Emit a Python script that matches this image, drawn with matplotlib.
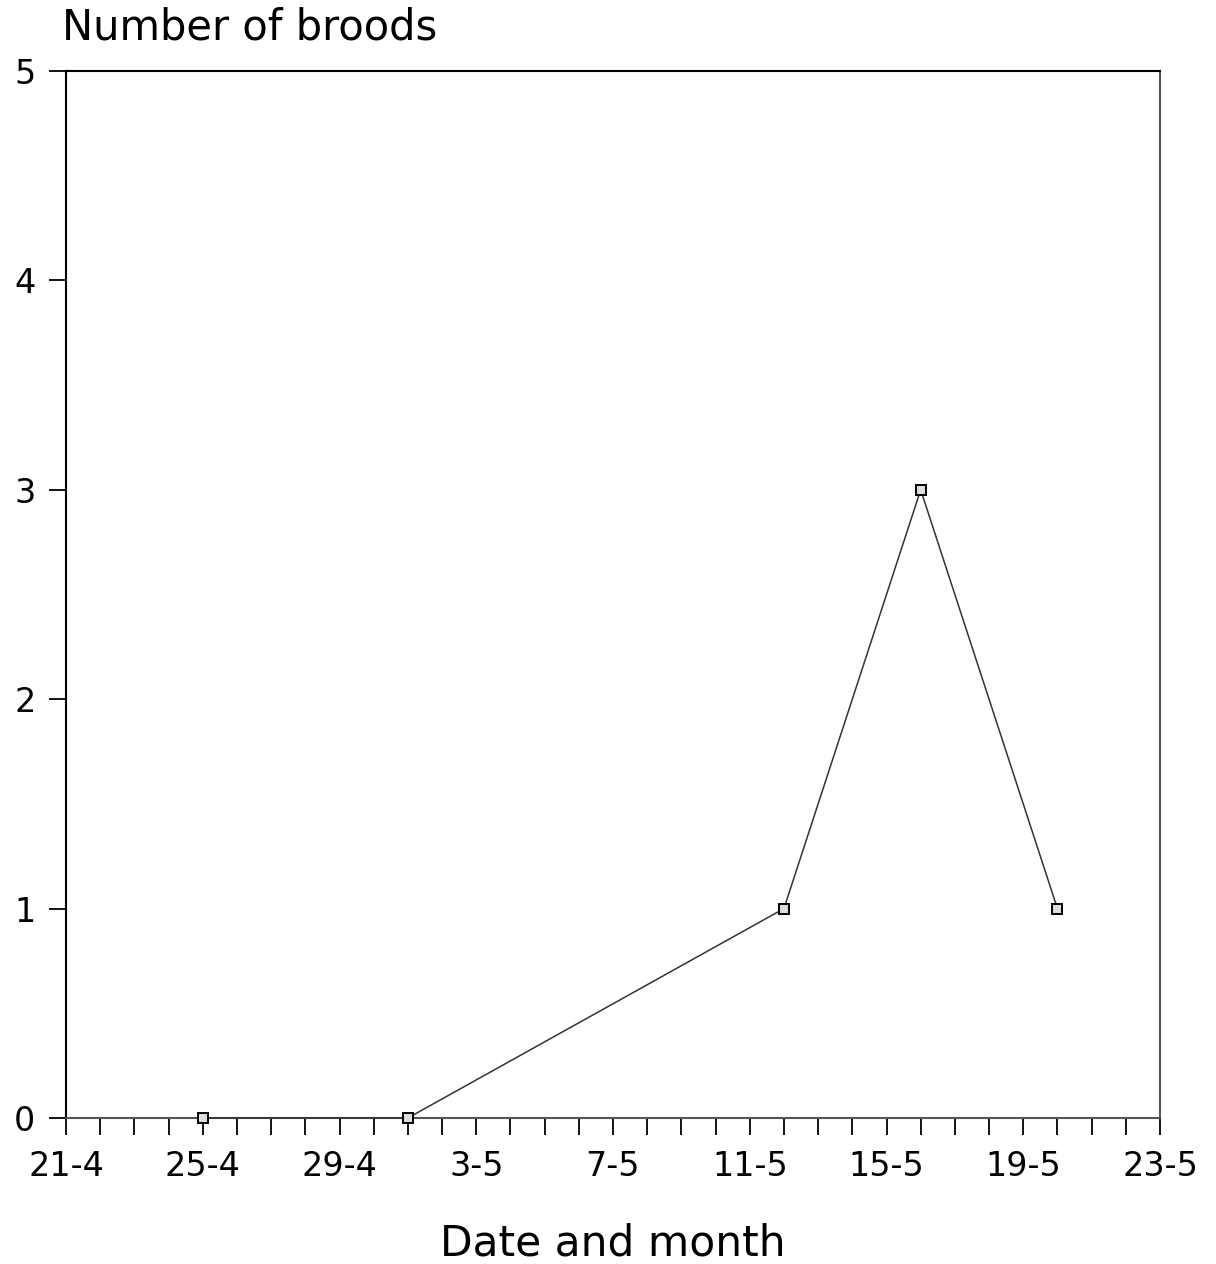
import datetime as dt
import matplotlib
matplotlib.use("Agg")
import matplotlib.pyplot as plt
import matplotlib.dates as mdates

# sampling dates (day, month) and number of broods
days = [25, 1, 12, 16, 20]
months = [4, 5, 5, 5, 5]
broods = [0, 0, 1, 3, 1]

year = 1990
dates = [dt.date(year, m, d) for d, m in zip(days, months)]
x_start = dt.date(year, 4, 21)
x_end = dt.date(year, 5, 23)

plt.rcParams['font.family'] = ['DejaVu Sans']

fig = plt.figure(figsize=(12.16, 12.64), dpi=100)
ax = fig.add_axes([66/1216, 1 - 1118/1264, (1160-66)/1216, (1118-71)/1264])

ax.plot(dates, broods, color='#333333', lw=1.1, marker='s', ms=6.5,
        mfc='#dddddd', mec='black', mew=1.4, clip_on=False, zorder=5)

ax.set_xlim(x_start, x_end)
ax.set_ylim(0, 5)

# a tick every day, a label every 4th day
ax.xaxis.set_major_locator(mdates.DayLocator(interval=1))
lab_days = set((x_start + dt.timedelta(days=k)) for k in range(0, 33, 4))

def fmt(v, pos):
    d = mdates.num2date(v).date()
    return f"{d.day}-{d.month}" if d in lab_days else ""

ax.xaxis.set_major_formatter(plt.FuncFormatter(fmt))
ax.set_yticks(range(0, 6))

ax.tick_params(axis='x', direction='out', length=12, width=1.3, pad=11,
               labelsize=24, colors='black')
ax.tick_params(axis='y', direction='out', length=12, width=1.3, pad=10,
               labelsize=24)

for side in ['left', 'top']:
    ax.spines[side].set_color('black')
    ax.spines[side].set_linewidth(1.5)
for side in ['bottom', 'right']:
    ax.spines[side].set_color('#555555')
    ax.spines[side].set_linewidth(1.5)

fig.text(62/1216, 1 - 39/1264, "Number of broods", fontsize=30,
         ha='left', va='baseline')
fig.text(613/1216, 1 - 1255/1264, "Date and month", fontsize=30.5,
         ha='center', va='baseline')

fig.savefig("out.png", dpi=100)
